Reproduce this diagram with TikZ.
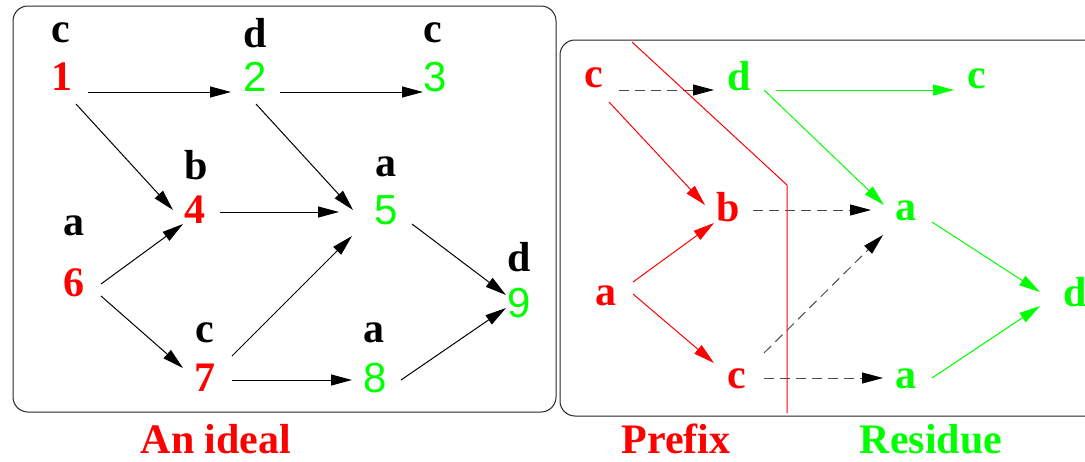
\documentclass[tikz,border=0pt]{standalone}
\usepackage{fontspec}
\setmainfont{Liberation Serif}
\newfontfamily\sansf{Liberation Sans}
\usetikzlibrary{arrows.meta}
\begin{document}
\begin{tikzpicture}[x=1pt,y=-1pt,
  lab/.style={font=\fontsize{42}{44}\selectfont\bfseries, inner sep=0pt, text=black},
  rlab/.style={lab, text=red},
  glab/.style={lab, text=green},
  gnum/.style={font=\fontsize{42}{44}\selectfont\sansf, inner sep=0pt, text=green},
  arr/.style={-{Triangle[length=21pt,width=11pt]}, line width=1pt},
  darr/.style={-{Triangle[length=21pt,width=11pt,color=black]}, line width=1pt, black!70, dash pattern=on 10pt off 6pt},
  rarr/.style={arr, red},
  garr/.style={arr, green},
  box/.style={draw=black!85, line width=1pt, rounded corners=15pt}]
\useasboundingbox (0,0) rectangle (1085,461);
\fill[white] (0,0) rectangle (1085,461);
% boxes
\draw[box] (13,6) rectangle (556,412);
\draw[box] (560,40) rectangle (1120,416);
% left graph
\node[rlab] (n1) at (62,77) {1};
\node[gnum] (n2) at (255,77) {2};
\node[gnum] (n3) at (435,77) {3};
\node[rlab] (n4) at (195,210) {4};
\node[gnum] (n5) at (386,210) {5};
\node[rlab] (n6) at (74,283) {6};
\node[rlab] (n7) at (205,378) {7};
\node[gnum] (n8) at (375,378) {8};
\node[gnum] (n9) at (519,303) {9};
\node[lab] (l1) at (61,33) {c};
\node[lab] (l2) at (255,33) {d};
\node[lab] (l3) at (433,33) {c};
\node[lab] (l4) at (196,165) {b};
\node[lab] (l5) at (386,167) {a};
\node[lab] (l6) at (74,226) {a};
\node[lab] (l7) at (205,333) {c};
\node[lab] (l8) at (374,333) {a};
\node[lab] (l9) at (519,257) {d};
\draw[arr] ([shift={(26,15)}]n1.center) -- ([shift={(-24,15)}]n2.center);
\draw[arr] ([shift={(25,15)}]n2.center) -- ([shift={(-12,15)}]n3.center);
\draw[arr] ([shift={(14,27)}]n1.center) -- ([shift={(-22,0)}]n4.center);
\draw[arr] ([shift={(1,27)}]n2.center) -- ([shift={(-33,0)}]n5.center);
\draw[arr] ([shift={(25,2)}]n4.center) -- ([shift={(-47,2)}]n5.center);
\draw[arr] ([shift={(27,1)}]n6.center) -- ([shift={(-12,14)}]n4.center);
\draw[arr] ([shift={(27,13)}]n6.center) -- ([shift={(-22,-10)}]n7.center);
\draw[arr] ([shift={(27,-22)}]n7.center) -- ([shift={(-34,26)}]n5.center);
\draw[arr] ([shift={(27,2)}]n7.center) -- ([shift={(-23,2)}]n8.center);
\draw[arr] ([shift={(26,14)}]n5.center) -- ([shift={(-13,-8)}]n9.center);
\draw[arr] ([shift={(26,2)}]n8.center) -- ([shift={(-13,5)}]n9.center);
% right graph
\node[rlab] (r1) at (594,78) {c};
\node[glab] (r2) at (739,76) {d};
\node[glab] (r3) at (977,79) {c};
\node[rlab] (r4) at (728,207) {b};
\node[glab] (r5) at (906,211) {a};
\node[rlab] (r6) at (606,296) {a};
\node[rlab] (r7) at (737,379) {c};
\node[glab] (r8) at (906,379) {a};
\node[glab] (r9) at (1075,292) {d};
\draw[darr] ([shift={(25,12)}]r1.center) -- ([shift={(-25,14)}]r2.center);
\draw[garr] ([shift={(37,14)}]r2.center) -- ([shift={(-23,11)}]r3.center);
\draw[rarr] ([shift={(15,24)}]r1.center) -- ([shift={(-23,-2)}]r4.center);
\draw[garr] ([shift={(25,14)}]r2.center) -- ([shift={(-22,-6)}]r5.center);
\draw[darr] ([shift={(25,3)}]r4.center) -- ([shift={(-35,-1)}]r5.center);
\draw[rarr] ([shift={(27,-14)}]r6.center) -- ([shift={(-14,16)}]r4.center);
\draw[rarr] ([shift={(27,-2)}]r6.center) -- ([shift={(-23,-16)}]r7.center);
\draw[darr] ([shift={(27,-26)}]r7.center) -- ([shift={(-23,24)}]r5.center);
\draw[darr] ([shift={(27,-1)}]r7.center) -- ([shift={(-23,-1)}]r8.center);
\draw[garr] ([shift={(26,11)}]r5.center) -- ([shift={(-35,0)}]r9.center);
\draw[garr] ([shift={(26,-1)}]r8.center) -- ([shift={(-35,14)}]r9.center);
% cut line
\coordinate (cutA) at (632,42);
\coordinate (cutB) at (787,185);
\coordinate (cutC) at (787,413);
\draw[red, line width=1pt] (cutA) -- (cutB) -- (cutC);
% captions
\node[rlab] (cap1) at (216,439) {An ideal};
\node[rlab] (cap2) at (676,439) {Prefix};
\node[glab] (cap3) at (931,439) {Residue};
\end{tikzpicture}
\end{document}
